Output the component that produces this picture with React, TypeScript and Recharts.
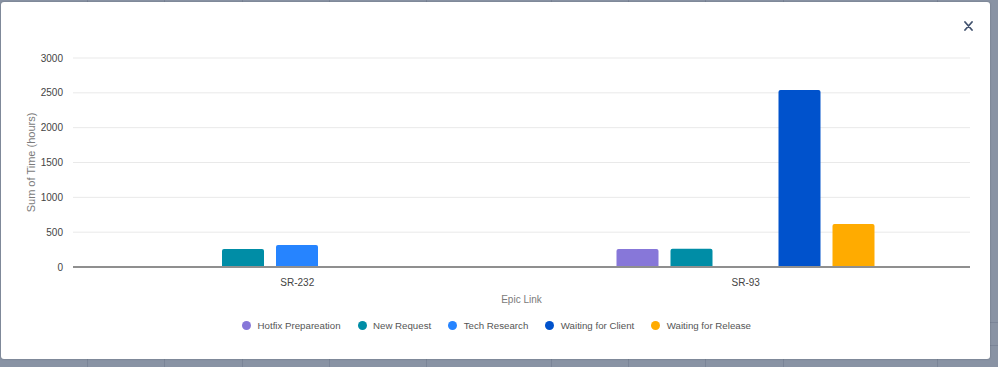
import { Bar, BarChart, CartesianGrid, Legend, XAxis, YAxis } from 'recharts'

const categories = ['SR-232', 'SR-93']
const seriesNames = ['Hotfix Prepareation', 'New Request', 'Tech Research', 'Waiting for Client', 'Waiting for Release']
const hotfixPrep = [0, 260]
const newRequest = [260, 262]
const techResearch = [315, 0]
const waitingClient = [0, 2540]
const waitingRelease = [0, 617]
const seriesColors = ['#8777D9', '#008DA6', '#2684FF', '#0052CC', '#FFAB00']
const yTicks = [0, 500, 1000, 1500, 2000, 2500, 3000]

const seriesValues = [hotfixPrep, newRequest, techResearch, waitingClient, waitingRelease]
const seriesKeys = ['hotfix', 'newRequest', 'techResearch', 'waitingClient', 'waitingRelease']

const chartData = categories.map((name, i) => {
  const row: Record<string, string | number | null> = { name }
  seriesKeys.forEach((key, s) => {
    row[key] = seriesValues[s][i] || null
  })
  return row
})

const font = '"Liberation Sans", Arial, sans-serif'
const bgLinesX = [87, 164, 242, 329, 426, 551, 628, 705, 783, 937]

function YLabel({ viewBox }: any) {
  const x = viewBox.x + 8
  const y = viewBox.y + viewBox.height / 2
  return (
    <text
      x={x}
      y={y}
      transform={`rotate(-90, ${x}, ${y})`}
      textAnchor="middle"
      dominantBaseline="central"
      fill="#7a7a7a"
      fontSize={11}
      fontFamily={font}
    >
      Sum of Time (hours)
    </text>
  )
}

function LegendContent({ payload }: any) {
  return (
    <div style={{ display: 'flex', justifyContent: 'center', height: 20, alignItems: 'center', fontFamily: font, fontSize: 9.7, color: '#555' }}>
      {(payload || []).map((item: any) => (
        <span key={item.value} style={{ display: 'inline-flex', alignItems: 'center', margin: '0 8.5px' }}>
          <span style={{ width: 9, height: 9, borderRadius: '50%', background: item.color, marginRight: 6.5 }} />
          {item.value}
        </span>
      ))}
    </div>
  )
}

export default function App() {
  return (
    <div style={{ position: 'fixed', left: 0, top: 0, width: 998, height: 367, background: '#8993A4', overflow: 'hidden' }}>
      {bgLinesX.map(x => (
        <div key={x} style={{ position: 'absolute', left: x, top: 0, width: 1, height: 367, background: '#7b8598' }} />
      ))}
      <div style={{ position: 'absolute', left: 990, top: 322, width: 8, height: 1, background: '#7b8598' }} />
      <div style={{ position: 'absolute', left: 990, top: 345, width: 8, height: 1, background: '#7b8598' }} />
      <div
        style={{
          position: 'absolute',
          left: 1,
          top: 2,
          width: 989,
          height: 357,
          background: '#fff',
          borderRadius: 3,
          boxShadow: '0 0 2px rgba(0,0,0,0.25)',
        }}
      >
        <svg style={{ position: 'absolute', left: 963, top: 19 }} width={9} height={10} viewBox="0 0 9 10">
          <path d="M1 1 L8 9 M8 1 L1 9" stroke="#42526E" strokeWidth={1.8} strokeLinecap="round" />
        </svg>
        <BarChart
          width={989}
          height={357}
          data={chartData}
          margin={{ top: 56, right: 20, left: 22, bottom: 24 }}
          barCategoryGap="21%"
          barGap={12}
        >
          <CartesianGrid vertical={false} stroke="#e9e9e9" />
          <XAxis
            dataKey="name"
            height={48}
            tickLine={false}
            tickSize={0}
            tickMargin={12}
            axisLine={{ stroke: '#8f8f8f', strokeWidth: 2 }}
            tick={{ fill: '#444', fontSize: 10, fontFamily: font }}
            label={{ value: 'Epic Link', position: 'insideBottom', offset: 12, fill: '#7a7a7a', fontSize: 10, fontFamily: font }}
          />
          <YAxis
            width={50}
            domain={[0, 3000]}
            ticks={yTicks}
            axisLine={false}
            tickLine={false}
            tickSize={0}
            tickMargin={10}
            tick={{ fill: '#444', fontSize: 10, fontFamily: font }}
            label={<YLabel />}
          />
          <Legend verticalAlign="bottom" content={<LegendContent />} />
          {seriesKeys.map((key, s) => (
            <Bar
              key={key}
              dataKey={key}
              name={seriesNames[s]}
              fill={seriesColors[s]}
              barSize={42}
              radius={[2, 2, 0, 0]}
              isAnimationActive={false}
            />
          ))}
        </BarChart>
      </div>
    </div>
  )
}
